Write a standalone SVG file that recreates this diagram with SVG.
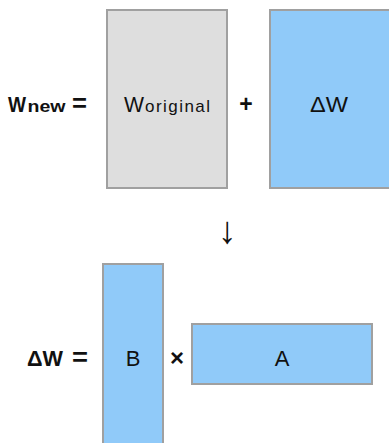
<svg xmlns="http://www.w3.org/2000/svg" width="389" height="443" viewBox="0 0 389 443">
  <style>
    .mat { stroke: #a0a0a0; stroke-width: 2; }
    .gray { fill: #dedede; }
    .blue { fill: #90caf9; }
    .lbl { font-family: "Liberation Sans", Arial, sans-serif; fill: #111; }
    .bold { font-weight: bold; }
  </style>
  <rect width="389" height="443" fill="#ffffff"/>

  <!-- top equation: W_new = W_original + ΔW -->
  <g id="lhs-wnew">
    <text class="lbl bold" x="8" y="112" font-size="22" textLength="18" lengthAdjust="spacingAndGlyphs">W</text>
    <text class="lbl bold" x="27.5" y="112" font-size="17" textLength="38" lengthAdjust="spacingAndGlyphs">new</text>
    <text class="lbl bold" x="72" y="112" font-size="25" textLength="15" lengthAdjust="spacingAndGlyphs">=</text>
  </g>
  <g id="w-original">
    <rect class="mat gray" x="107" y="10" width="120" height="178"/>
    <text class="lbl" x="124" y="112" font-size="22" textLength="20" lengthAdjust="spacingAndGlyphs">W</text>
    <text class="lbl" x="145" y="112" font-size="17" textLength="65">original</text>
  </g>
  <g id="plus">
    <text class="lbl bold" x="246" y="112" font-size="23" text-anchor="middle">+</text>
  </g>
  <g id="delta-w">
    <rect class="mat blue" x="270" y="10" width="130" height="178"/>
    <text class="lbl" x="329" y="112" font-size="22" text-anchor="middle" textLength="38" lengthAdjust="spacingAndGlyphs">ΔW</text>
  </g>

  <!-- connector between the two equations -->
  <g id="connectors">
    <text class="lbl" x="227" y="243" font-size="38" text-anchor="middle" fill="#000">↓</text>
  </g>

  <!-- bottom equation: ΔW = B × A -->
  <g id="lhs-dw">
    <text class="lbl bold" x="27" y="366" font-size="22" textLength="36" lengthAdjust="spacingAndGlyphs">ΔW</text>
    <text class="lbl bold" x="72" y="366" font-size="25" textLength="16" lengthAdjust="spacingAndGlyphs">=</text>
  </g>
  <g id="matrix-b">
    <rect class="mat blue" x="103" y="264" width="60" height="200"/>
    <text class="lbl" x="133" y="366" font-size="22" text-anchor="middle">B</text>
  </g>
  <g id="times">
    <text class="lbl bold" x="177" y="366" font-size="24" text-anchor="middle">×</text>
  </g>
  <g id="matrix-a">
    <rect class="mat blue" x="192" y="324" width="180" height="60"/>
    <text class="lbl" x="282" y="366" font-size="22" text-anchor="middle">A</text>
  </g>
</svg>
